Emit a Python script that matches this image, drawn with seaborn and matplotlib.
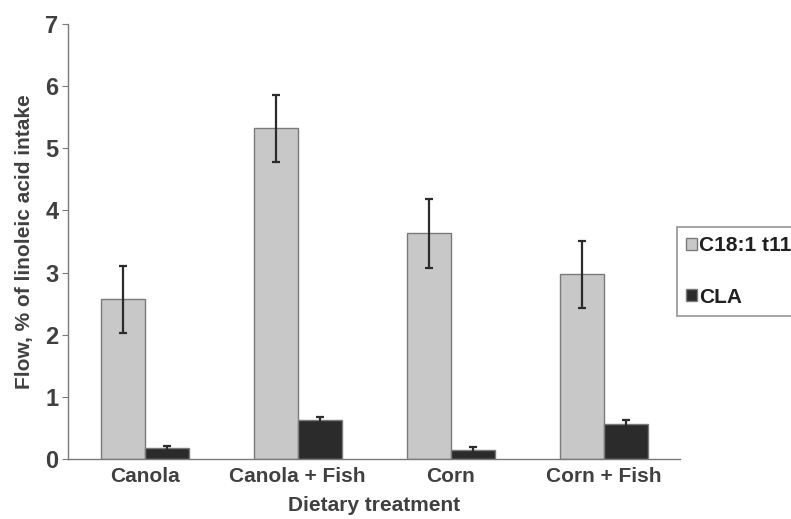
import pandas as pd
import matplotlib
matplotlib.use('Agg')
import matplotlib.pyplot as plt
import seaborn as sns
from matplotlib.patches import Patch

# Data
treatments = ['Canola', 'Canola + Fish', 'Corn', 'Corn + Fish']
series = ['C18:1 t11', 'CLA']
c18_t11 = [2.57, 5.32, 3.63, 2.97]
c18_t11_err = [0.54, 0.54, 0.55, 0.54]
cla = [0.17, 0.62, 0.15, 0.57]
cla_err = [0.04, 0.06, 0.05, 0.06]

df = pd.DataFrame({
    'treatment': treatments * 2,
    'series': [series[0]] * 4 + [series[1]] * 4,
    'flow': c18_t11 + cla,
})
errors = {series[0]: c18_t11_err, series[1]: cla_err}
colors = {series[0]: '#c8c8c8', series[1]: '#2b2b2b'}

sns.set_style('white')
plt.rcParams['font.family'] = ['Liberation Sans', 'DejaVu Sans']
plt.rcParams['font.weight'] = 'bold'

fig = plt.figure(figsize=(7.91, 5.19), dpi=100)
ax = fig.add_axes([0.086, 0.1156, 0.7737, 0.8382])

sns.barplot(data=df, x='treatment', y='flow', hue='series', order=treatments,
            hue_order=series, palette=colors, width=0.575, errorbar=None,
            edgecolor='#7a7a7a', linewidth=1.0, legend=False, ax=ax)

# error bars on each bar
for cont, s in zip(ax.containers, series):
    xs = [p.get_x() + p.get_width() / 2 for p in cont.patches]
    ys = [p.get_height() for p in cont.patches]
    ax.errorbar(xs, ys, yerr=errors[s], fmt='none', ecolor='#2b2b2b',
                elinewidth=1.6, capsize=3, capthick=1.6, zorder=5)

ax.set_ylim(0, 7)
ax.set_xlim(-0.5, 3.5)
ax.set_yticks(range(0, 8))
sns.despine(ax=ax)
for sp in ['left', 'bottom']:
    ax.spines[sp].set_color('#7a7a7a')
    ax.spines[sp].set_linewidth(1.0)

# category separators as minor ticks
ax.set_xticks([-0.5, 0.5, 1.5, 2.5, 3.5], minor=True)
ax.tick_params(axis='x', which='major', length=0, pad=6, labelsize=15, labelcolor='#404040')
ax.tick_params(axis='x', which='minor', length=4, direction='out', color='#7a7a7a')
ax.tick_params(axis='y', length=4, direction='out', color='#7a7a7a', left=True,
               labelsize=17, labelcolor='#404040', pad=3)

ax.set_xlabel('Dietary treatment', fontsize=15, fontweight='bold', color='#404040', labelpad=7)
ax.set_ylabel('Flow, % of linoleic acid intake', fontsize=15, fontweight='bold',
              color='#404040', labelpad=8)

handles = [Patch(facecolor=colors[s], edgecolor='#7a7a7a', label=s) for s in series]
leg = fig.legend(handles=handles, loc='lower left', bbox_to_anchor=(0.856, 0.391),
                 borderaxespad=0, frameon=True, fancybox=False, fontsize=15,
                 handlelength=0.5, handleheight=0.5, handletextpad=0.1,
                 labelspacing=1.55, borderpad=0.45, edgecolor='#7a7a7a')
leg.get_frame().set_linewidth(1.2)
for t in leg.get_texts():
    t.set_color('#202020')

fig.savefig('out.png', dpi=100)
